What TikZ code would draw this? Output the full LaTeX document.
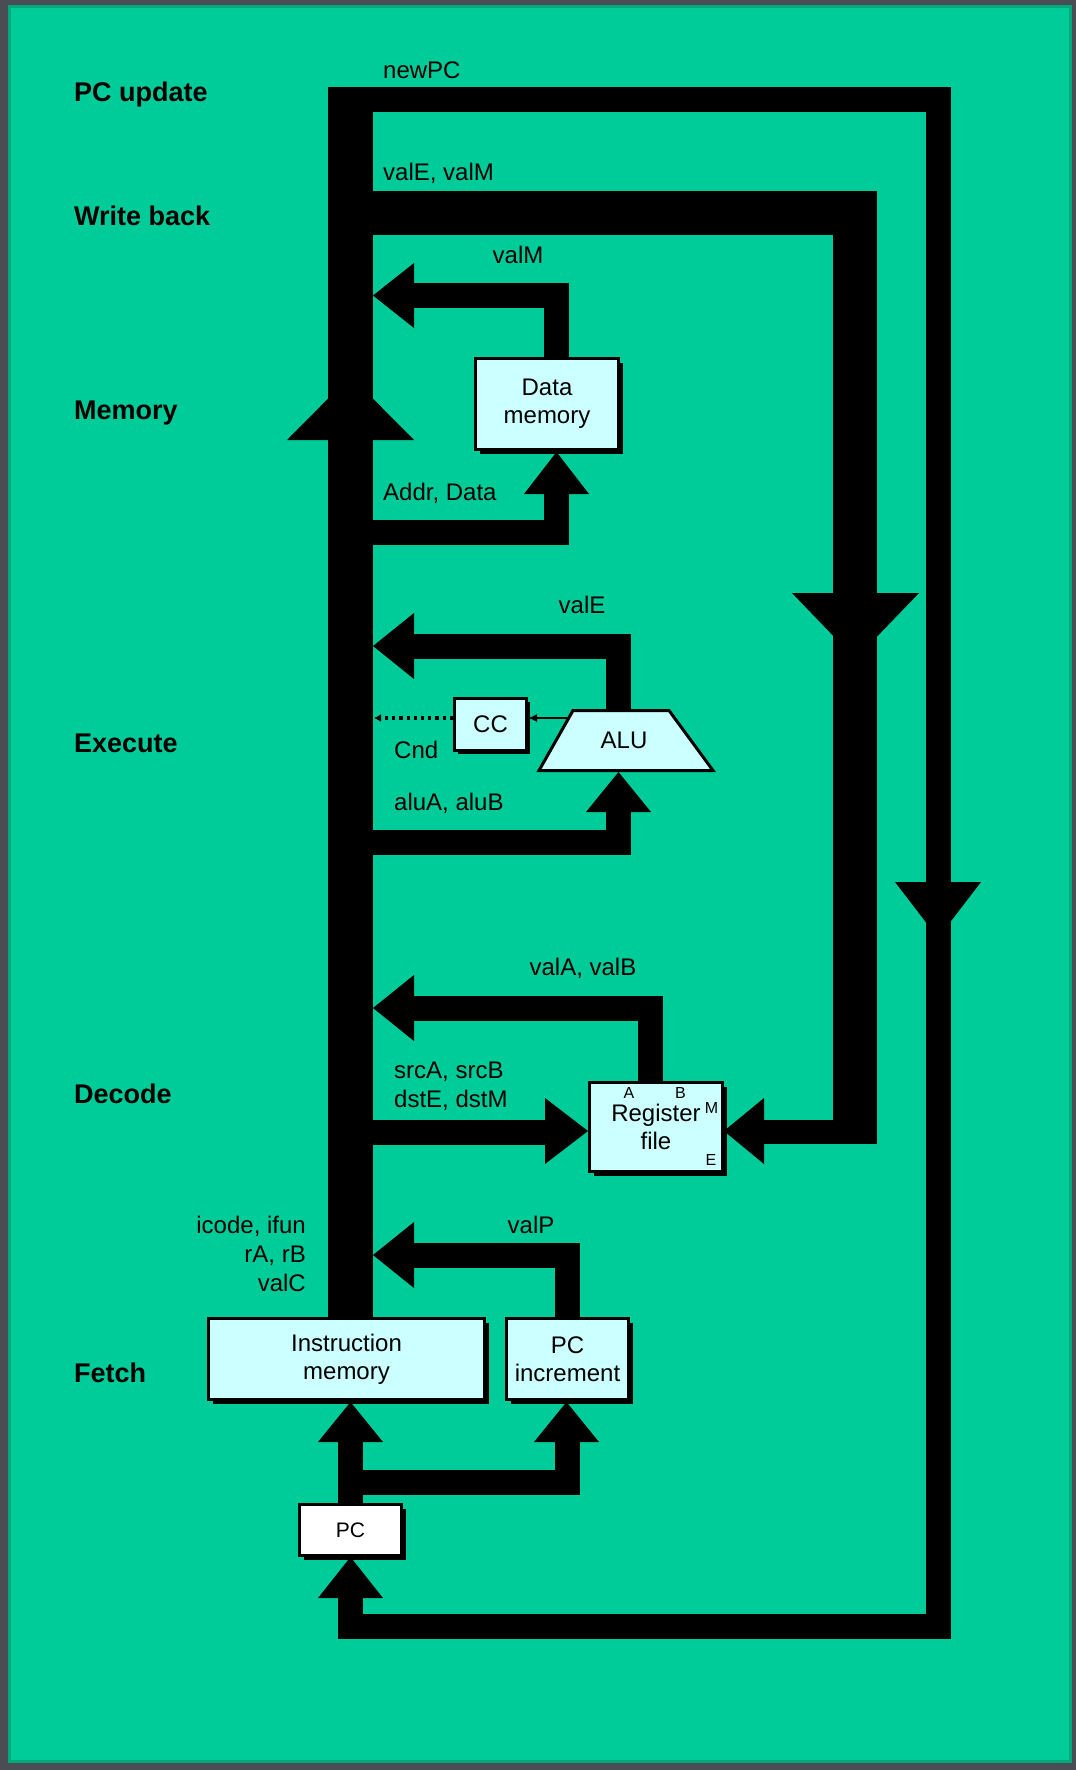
\documentclass[tikz,border=0pt]{standalone}
\usepackage{fontspec}
\setmainfont{Liberation Sans}
\usetikzlibrary{arrows.meta,shadows}
\definecolor{bggray}{HTML}{4A4E54}
\definecolor{slidegreen}{HTML}{00CC99}
\definecolor{edgegreen}{HTML}{00A87E}
\definecolor{boxcyan}{HTML}{CCFFFF}
\newcommand\labfont{\fontsize{24}{28}\selectfont}
\newcommand\stagefont{\fontsize{27}{31}\selectfont\bfseries}
\newcommand\pcfont{\fontsize{21}{25}\selectfont}
\newcommand\portfont{\fontsize{16}{18}\selectfont}
\newcommand\arrhead[3]{\fill[black] (#1) -- (#2) -- (#3) -- cycle;}
\pgfdeclarelayer{bg}
\pgfsetlayers{bg,main}
\begin{document}
\begin{tikzpicture}[x=1pt,y=-1pt,
  wire/.style={draw=black,line width=#1,line cap=butt,line join=miter},
  wire/.default=25pt,
  boxbase/.style={draw=black,line width=3pt,fill=boxcyan,inner sep=0pt,align=center,font=\labfont},
  shadowfour/.style={drop shadow={shadow xshift=4pt,shadow yshift=-4pt,fill=black,opacity=1}},
  shadowthree/.style={drop shadow={shadow xshift=3pt,shadow yshift=-3pt,fill=black,opacity=1}},
  lab/.style={inner sep=0pt,font=\labfont},
  stage/.style={inner sep=0pt,anchor=base west,font=\stagefont},
  port/.style={inner sep=0pt,anchor=base,font=\portfont}]

% ---------- boxes ----------
\node[boxbase,shadowfour,minimum width=143pt,minimum height=91pt] (dmem) at (547,404) {Data\\memory};
\node[boxbase,shadowfour,minimum width=276pt,minimum height=81pt] (imem) at (346.5,1359) {Instruction\\memory};
\node[boxbase,shadowfour,minimum width=122pt,minimum height=81pt] (pcinc) at (567.5,1359) {PC\\increment};
\node[boxbase,shadowfour,fill=white,font=\pcfont,minimum width=102pt,minimum height=51pt] (pc) at (350.5,1530) {PC};
\node[boxbase,shadowfour,minimum width=133pt,minimum height=89pt] (regf) at (656,1127) {Register\\file};
\node[boxbase,shadowthree,minimum width=72pt,minimum height=52pt] (cc) at (490.5,724.5) {CC};

% ALU trapezoid
\draw[line width=3pt,fill=boxcyan,line join=miter] (573,710.5) coordinate (alutl) -- (669,710.5) coordinate (alutr)
   -- (713,770.5) coordinate (alubr) -- (539,770.5) coordinate (alubl) -- cycle;
\node[lab,anchor=base] (alu) at (624,748) {ALU};

% register file ports
\node[port] (porta) at (629,1098) {A};
\node[port] (portb) at (680.5,1098) {B};
\node[port] (portm) at (711.5,1113) {M};
\node[port] (porte) at (711,1165) {E};

% ---------- background and wires ----------
\begin{pgfonlayer}{bg}
\fill[bggray] (0,0) rectangle (1076,1770);
\fill[edgegreen] (8,5) rectangle (1072,1763);
\fill[slidegreen] (11,8) rectangle (1069,1760);

% main bus
\coordinate (bustop) at (350.5,87);
\coordinate (busbot) at (350.5,1320);
\draw[wire=45pt] (bustop) -- (busbot);

% newPC loop
\coordinate (np0) at (350.5,99.5);
\coordinate (np1) at (938,99.5);
\coordinate (np2) at (938,1626.5);
\coordinate (np3) at (350.5,1626.5);
\coordinate (np4) at (350.5,1597);
\draw[wire] (np0) -- (np1) -- (np2) -- (np3) -- (np4);

% write back
\coordinate (wb0) at (350.5,213);
\coordinate (wb1) at (855,213);
\coordinate (wb2) at (855,1143);
\draw[wire=44pt] (wb0) -- (wb1) -- (wb2);
\coordinate (wb3) at (877,1131.5);
\coordinate (wb4) at (763,1131.5);
\draw[wire=24pt] (wb3) -- (wb4);

% valM
\coordinate (vm0) at (556,360);
\coordinate (vm1) at (556,295.5);
\coordinate (vm2) at (413,295.5);
\draw[wire] (vm0) -- (vm1) -- (vm2);

% Addr, Data
\coordinate (ad0) at (370,532.5);
\coordinate (ad1) at (556,532.5);
\coordinate (ad2) at (556,493);
\draw[wire] (ad0) -- (ad1) -- (ad2);

% valE
\coordinate (ve0) at (618.5,712);
\coordinate (ve1) at (618.5,646);
\coordinate (ve2) at (413,646);
\draw[wire] (ve0) -- (ve1) -- (ve2);

% aluA, aluB
\coordinate (aa0) at (370,842.5);
\coordinate (aa1) at (618.5,842.5);
\coordinate (aa2) at (618.5,811);
\draw[wire] (aa0) -- (aa1) -- (aa2);

% valA, valB
\coordinate (va0) at (650,1083);
\coordinate (va1) at (650,1008.5);
\coordinate (va2) at (413,1008.5);
\draw[wire] (va0) -- (va1) -- (va2);

% srcA ...
\coordinate (sa0) at (370,1132.5);
\coordinate (sa1) at (546,1132.5);
\draw[wire] (sa0) -- (sa1);

% valP
\coordinate (vp0) at (567,1320);
\coordinate (vp1) at (567,1255);
\coordinate (vp2) at (413,1255);
\draw[wire] (vp0) -- (vp1) -- (vp2);

% PC to instruction memory / PC increment
\coordinate (pu0) at (350.5,1505);
\coordinate (pu1) at (350.5,1441);
\draw[wire] (pu0) -- (pu1);
\coordinate (br0) at (350.5,1482);
\coordinate (br1) at (567,1482);
\coordinate (br2) at (567,1441);
\draw[wire] (br0) -- (br1) -- (br2);

% arrowheads
\arrhead{318,1598}{383,1598}{350.5,1557}
\arrhead{318,1442}{383,1442}{350.5,1402}
\arrhead{534,1442}{599,1442}{566.5,1402}
\arrhead{414,1222}{414,1288}{373,1255}
\arrhead{545,1098}{545,1164}{588,1131}
\arrhead{764,1098}{764,1164}{724,1131}
\arrhead{414,975}{414,1041}{373,1008}
\arrhead{586,812}{651,812}{618.5,772}
\arrhead{414,613}{414,679}{373,646}
\arrhead{524,494}{589,494}{556.5,452}
\arrhead{414,263}{414,328}{373,295.5}
\arrhead{287,440}{414,440}{350.5,376}
\arrhead{792,593}{919,593}{855.5,659}
\arrhead{895,882}{981,882}{938,938}
\end{pgfonlayer}

% CC connections
\coordinate (cnd) at (374,718);
\draw[line width=3.2pt,dash pattern=on 3.2pt off 4pt,-{Latex[length=7pt,width=8pt]}] (cc.west |- cnd) -- (cnd);
\coordinate (aluleft) at (567,718);
\draw[line width=1.5pt,-{Latex[length=9pt,width=8pt]}] (aluleft) -- (cc.east |- aluleft);

% ---------- stage labels ----------
\node[stage] (spc) at (74,101) {PC update};
\node[stage] (swb) at (74,225) {Write back};
\node[stage] (smem) at (74,419.5) {Memory};
\node[stage] (sex) at (74,752) {Execute};
\node[stage] (sdec) at (74,1103) {Decode};
\node[stage] (sfet) at (74,1382) {Fetch};

% ---------- signal labels ----------
\node[lab,anchor=base west] (lnewpc) at (383,78.5) {newPC};
\node[lab,anchor=base west] (lvalevalm) at (383,180) {valE, valM};
\node[lab,anchor=base] (lvalm) at (518,263) {valM};
\node[lab,anchor=base west] (laddr) at (383,500) {Addr, Data};
\node[lab,anchor=base] (lvale) at (582,613) {valE};
\node[lab,anchor=base west] (lcnd) at (394,758) {Cnd};
\node[lab,anchor=base west] (lalu) at (394,810) {aluA, aluB};
\node[lab,anchor=base] (lvala) at (583,975) {valA, valB};
\node[lab,anchor=base west] (lsrc) at (394,1078) {srcA, srcB};
\node[lab,anchor=base west] (ldst) at (394,1107) {dstE, dstM};
\node[lab,anchor=base east] (licode) at (306,1233) {icode, ifun};
\node[lab,anchor=base east] (lrarb) at (306,1262) {rA, rB};
\node[lab,anchor=base east] (lvalc) at (306,1291) {valC};
\node[lab,anchor=base] (lvalp) at (531,1233) {valP};
\end{tikzpicture}
\end{document}
